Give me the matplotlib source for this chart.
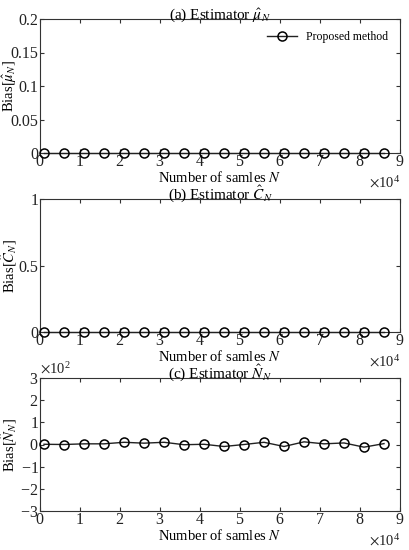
import matplotlib
matplotlib.use("Agg")
from matplotlib import pyplot as plt
from matplotlib.ticker import FuncFormatter

plt.rcParams['font.family'] = ['Liberation Serif', 'DejaVu Serif']
plt.rcParams['mathtext.fontset'] = 'stix'

# number of samples
samples = [1000, 6000, 11000, 16000, 21000, 26000, 31000, 36000, 41000,
           46000, 51000, 56000, 61000, 66000, 71000, 76000, 81000, 86000]

# bias of each estimator
bias_mu = [0.0] * 18
bias_C = [0.0] * 18
bias_N = [1, 0, 3, 3, 10, 6, 10, -1, 1, -9, 0, 10, -9, 12, 3, 7, -12, 4]

titles = [r'(a) Estimator $\hat{\mu}_N$',
          r'(b) Estimator $\hat{C}_N$',
          r'(c) Estimator $\hat{N}_N$']
ylabels = [r'Bias[$\hat{\mu}_N$]', r'Bias[$\hat{C}_N$]', r'Bias[$\hat{N}_N$]']
ylims = [(0, 0.2), (0, 1), (-300, 300)]
yticks = [[0, 0.05, 0.1, 0.15, 0.2], [0, 0.5, 1], [-300, -200, -100, 0, 100, 200, 300]]

fig = plt.figure(figsize=(4.09, 5.5), dpi=100)
W, H = 409.0, 550.0
boxes = [(19, 153), (199, 332), (378, 511)]

for i, data in enumerate([bias_mu, bias_C, bias_N]):
    top, bot = boxes[i]
    ax = fig.add_axes([40 / W, 1 - bot / H, 360 / W, (bot - top) / H])
    ax.plot(samples, data, '-o', color='#222222', mfc='none', mec='black',
            ms=6.5, lw=1.0, mew=1.1, clip_on=False, zorder=3,
            label='Proposed method')
    ax.set_xlim(0, 90000)
    ax.set_ylim(*ylims[i])
    ax.set_xticks(range(0, 90001, 10000))
    ax.set_yticks(yticks[i])
    ax.tick_params(direction='in', top=True, right=True, labelsize=11.5,
                   length=3, pad=1, color='#333333', labelcolor='#222222')
    ax.ticklabel_format(axis='x', style='sci', scilimits=(0, 0), useMathText=True)
    ax.xaxis.get_offset_text().set_fontsize(10.5)
    if i == 2:
        ax.ticklabel_format(axis='y', style='sci', scilimits=(0, 0), useMathText=True)
        ax.yaxis.get_offset_text().set_fontsize(10.5)
    else:
        ax.yaxis.set_major_formatter(FuncFormatter(lambda v, p: '%g' % v))
    for s in ax.spines.values():
        s.set_color('#333333')
        s.set_linewidth(0.8)
    ax.set_title(titles[i], fontsize=11, pad=0)
    ax.set_xlabel('Number of samles $N$', fontsize=10.5, labelpad=0)
    ax.set_ylabel(ylabels[i], fontsize=10.5)
    ax.yaxis.set_label_coords(-0.058, 0.5)
    if i == 0:
        ax.legend(loc='upper right', frameon=False, fontsize=8.5,
                  handlelength=2.5, borderaxespad=0.6)

plt.savefig("out.png", dpi=100)
plt.close()
